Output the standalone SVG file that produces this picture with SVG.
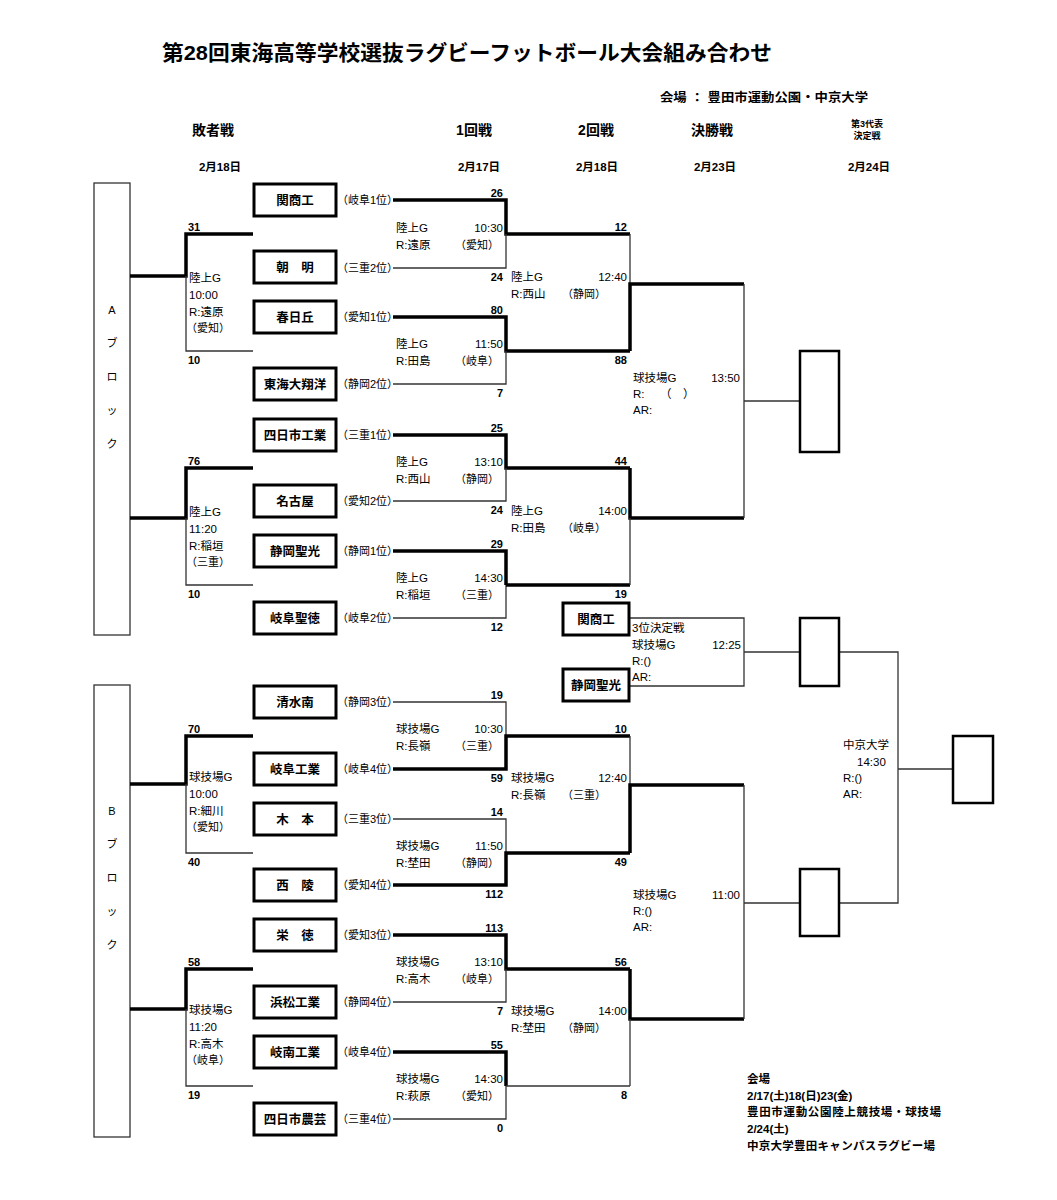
<svg xmlns="http://www.w3.org/2000/svg" width="1057" height="1200" viewBox="0 0 1057 1200">
<style>
text{font-family:"Liberation Sans","Noto Sans CJK JP",sans-serif;fill:#000}
.title{font-size:21px;font-weight:bold}
.sub{font-size:12px;font-weight:bold}
.hdr{font-size:14px;font-weight:bold;text-anchor:middle}
.hs{font-size:9px;font-weight:bold;text-anchor:middle}
.date{font-size:11.5px;font-weight:bold;text-anchor:middle}
.team{font-size:12.5px;font-weight:bold;text-anchor:middle}
.seed{font-size:11px}
.sc{font-size:11px;font-weight:bold}
.e{text-anchor:end}
.info{font-size:11.5px}
.pf{font-size:11px}
.blk{font-size:11px;text-anchor:middle}
.note{font-size:11.5px;font-weight:bold}
.thin{stroke:#333;stroke-width:1.3;fill:none}
.thick{stroke:#000;stroke-width:3.5;fill:none}
.box{fill:#fff;stroke:#000;stroke-width:3}
.rbox{fill:#fff;stroke:#000;stroke-width:2.5}
.bk{fill:#fff;stroke:#333;stroke-width:1.3}
</style>

<g id="header">
<text class="title" x="162" y="60" textLength="610" lengthAdjust="spacingAndGlyphs">第28回東海高等学校選抜ラグビーフットボール大会組み合わせ</text>
<text class="sub" x="660" y="102" textLength="208" lengthAdjust="spacingAndGlyphs">会場 ： 豊田市運動公園・中京大学</text>
<text class="hdr" x="213" y="135">敗者戦</text>
<text class="hdr" x="474" y="135">1回戦</text>
<text class="hdr" x="596" y="135">2回戦</text>
<text class="hdr" x="712" y="135">決勝戦</text>
<text class="hs" x="867" y="127">第3代表</text>
<text class="hs" x="867" y="139">決定戦</text>
<text class="date" x="220" y="171">2月18日</text>
<text class="date" x="479" y="171">2月17日</text>
<text class="date" x="597" y="171">2月18日</text>
<text class="date" x="715" y="171">2月23日</text>
<text class="date" x="869" y="171">2月24日</text>
</g>

<g id="block-A">
<rect class="bk" x="94" y="183" width="36" height="452"/>
<text class="blk" x="112" y="314">A</text>
<text class="blk" x="112" y="347">ブ</text>
<text class="blk" x="112" y="381">ロ</text>
<text class="blk" x="112" y="414">ッ</text>
<text class="blk" x="112" y="448">ク</text>
</g>
<g id="block-B">
<rect class="bk" x="94" y="685" width="36" height="452"/>
<text class="blk" x="112" y="815">B</text>
<text class="blk" x="112" y="848">ブ</text>
<text class="blk" x="112" y="882">ロ</text>
<text class="blk" x="112" y="915">ッ</text>
<text class="blk" x="112" y="949">ク</text>
</g>

<g id="connectors">
<path class="thick" d="M393,200 H506 V234 H630"/><path class="thin" d="M393,268 H506 V234"/>
<path class="thick" d="M393,317 H506 V351 H630"/><path class="thin" d="M393,384 H506 V351"/>
<path class="thick" d="M393,435 H506 V468 H630"/><path class="thin" d="M393,501 H506 V468"/>
<path class="thick" d="M393,551 H506 V585"/><path class="thin" d="M393,618 H506 V585"/><path class="thick" d="M506,585 H630"/>
<path class="thin" d="M393,702 H506 V736"/><path class="thick" d="M393,769 H506 V736 H630"/>
<path class="thin" d="M393,819 H506 V853"/><path class="thick" d="M393,885 H506 V853 H630"/>
<path class="thick" d="M393,935 H506 V969 H630"/><path class="thin" d="M393,1002 H506 V969"/>
<path class="thick" d="M393,1052 H506 V1086"/><path class="thin" d="M393,1119 H506 V1086"/><path class="thin" d="M506,1086 H630"/>
<path class="thin" d="M630,234 V284"/><path class="thick" d="M630,351 V284 H744"/>
<path class="thick" d="M630,468 V518 H744"/><path class="thin" d="M630,585 V518"/>
<path class="thin" d="M630,736 V785"/><path class="thick" d="M630,853 V785 H744"/>
<path class="thick" d="M630,969 V1019 H744"/><path class="thin" d="M630,1086 V1019"/>
<path class="thin" d="M744,284 V518 M744,401 H800"/>
<path class="thin" d="M744,785 V1019 M744,903 H800"/>
<path class="thin" d="M630,618 H744 V686 H630 M744,652 H800"/>
<path class="thin" d="M839,652 H898 V903 H839 M898,769 H953"/>
<path class="thick" d="M253,234 H186 V276 H130"/><path class="thin" d="M253,351 H186 V276"/>
<path class="thick" d="M253,468 H186 V518 H130"/><path class="thin" d="M253,585 H186 V518"/>
<path class="thick" d="M253,736 H186 V784 H130"/><path class="thin" d="M253,853 H186 V784"/>
<path class="thick" d="M253,969 H186 V1009 H130"/><path class="thin" d="M253,1086 H186 V1009"/>
</g>

<g id="teams">
<g id="t01"><rect class="box" x="254" y="184" width="82" height="32"/><text class="team" x="295" y="205">関商工</text><text class="seed" x="337" y="204">（岐阜1位）</text></g>
<g id="t02"><rect class="box" x="254" y="251" width="82" height="32"/><text class="team" x="295" y="272">朝　明</text><text class="seed" x="337" y="272">（三重2位）</text></g>
<g id="t03"><rect class="box" x="254" y="301" width="82" height="32"/><text class="team" x="295" y="322">春日丘</text><text class="seed" x="337" y="321">（愛知1位）</text></g>
<g id="t04"><rect class="box" x="254" y="368" width="82" height="32"/><text class="team" x="295" y="389">東海大翔洋</text><text class="seed" x="337" y="388">（静岡2位）</text></g>
<g id="t05"><rect class="box" x="254" y="419" width="82" height="32"/><text class="team" x="295" y="440">四日市工業</text><text class="seed" x="337" y="439">（三重1位）</text></g>
<g id="t06"><rect class="box" x="254" y="485" width="82" height="32"/><text class="team" x="295" y="506">名古屋</text><text class="seed" x="337" y="505">（愛知2位）</text></g>
<g id="t07"><rect class="box" x="254" y="535" width="82" height="32"/><text class="team" x="295" y="556">静岡聖光</text><text class="seed" x="337" y="555">（静岡1位）</text></g>
<g id="t08"><rect class="box" x="254" y="602" width="82" height="32"/><text class="team" x="295" y="623">岐阜聖徳</text><text class="seed" x="337" y="622">（岐阜2位）</text></g>
<g id="t09"><rect class="box" x="254" y="686" width="82" height="32"/><text class="team" x="295" y="707">清水南</text><text class="seed" x="337" y="706">（静岡3位）</text></g>
<g id="t10"><rect class="box" x="254" y="753" width="82" height="32"/><text class="team" x="295" y="774">岐阜工業</text><text class="seed" x="337" y="773">（岐阜4位）</text></g>
<g id="t11"><rect class="box" x="254" y="803" width="82" height="32"/><text class="team" x="295" y="824">木　本</text><text class="seed" x="337" y="823">（三重3位）</text></g>
<g id="t12"><rect class="box" x="254" y="869" width="82" height="32"/><text class="team" x="295" y="890">西　陵</text><text class="seed" x="337" y="889">（愛知4位）</text></g>
<g id="t13"><rect class="box" x="254" y="919" width="82" height="32"/><text class="team" x="295" y="940">栄　徳</text><text class="seed" x="337" y="939">（愛知3位）</text></g>
<g id="t14"><rect class="box" x="254" y="986" width="82" height="32"/><text class="team" x="295" y="1007">浜松工業</text><text class="seed" x="337" y="1006">（静岡4位）</text></g>
<g id="t15"><rect class="box" x="254" y="1036" width="82" height="32"/><text class="team" x="295" y="1057">岐南工業</text><text class="seed" x="337" y="1056">（岐阜4位）</text></g>
<g id="t16"><rect class="box" x="254" y="1103" width="82" height="32"/><text class="team" x="295" y="1124">四日市農芸</text><text class="seed" x="337" y="1123">（三重4位）</text></g>
<g id="third-1"><rect class="box" x="563" y="603" width="66" height="32"/><text class="team" x="596" y="624">関商工</text></g>
<g id="third-2"><rect class="box" x="563" y="669" width="66" height="32"/><text class="team" x="596" y="690">静岡聖光</text></g>
<g id="final-A"><rect class="rbox" x="800" y="351" width="39" height="101"/></g>
<g id="third-place"><rect class="rbox" x="800" y="618" width="39" height="68"/></g>
<g id="final-B"><rect class="rbox" x="800" y="869" width="39" height="67"/></g>
<g id="rep3"><rect class="rbox" x="953" y="736" width="40" height="67"/></g>
</g>

<g id="scores">
<text class="sc e" x="503" y="197">26</text><text class="sc e" x="503" y="281">24</text>
<text class="sc e" x="503" y="314">80</text><text class="sc e" x="503" y="397">7</text>
<text class="sc e" x="503" y="432">25</text><text class="sc e" x="503" y="514">24</text>
<text class="sc e" x="503" y="548">29</text><text class="sc e" x="503" y="631">12</text>
<text class="sc e" x="503" y="699">19</text><text class="sc e" x="503" y="782">59</text>
<text class="sc e" x="503" y="816">14</text><text class="sc e" x="503" y="898">112</text>
<text class="sc e" x="503" y="932">113</text><text class="sc e" x="503" y="1015">7</text>
<text class="sc e" x="503" y="1049">55</text><text class="sc e" x="503" y="1132">0</text>
<text class="sc e" x="627" y="231">12</text><text class="sc e" x="627" y="364">88</text>
<text class="sc e" x="627" y="465">44</text><text class="sc e" x="627" y="598">19</text>
<text class="sc e" x="627" y="733">10</text><text class="sc e" x="627" y="866">49</text>
<text class="sc e" x="627" y="966">56</text><text class="sc e" x="627" y="1099">8</text>
<text class="sc" x="188" y="231">31</text><text class="sc" x="188" y="364">10</text>
<text class="sc" x="188" y="465">76</text><text class="sc" x="188" y="598">10</text>
<text class="sc" x="188" y="733">70</text><text class="sc" x="188" y="866">40</text>
<text class="sc" x="188" y="966">58</text><text class="sc" x="188" y="1099">19</text>
</g>

<g id="match-info">
<text class="info" x="396" y="232">陸上G</text><text class="info e" x="503" y="232">10:30</text><text class="info" x="396" y="249">R:遠原</text><text class="pf" x="455" y="249">（愛知）</text>
<text class="info" x="396" y="348">陸上G</text><text class="info e" x="503" y="348">11:50</text><text class="info" x="396" y="365">R:田島</text><text class="pf" x="455" y="365">（岐阜）</text>
<text class="info" x="396" y="466">陸上G</text><text class="info e" x="503" y="466">13:10</text><text class="info" x="396" y="483">R:西山</text><text class="pf" x="455" y="483">（静岡）</text>
<text class="info" x="396" y="582">陸上G</text><text class="info e" x="503" y="582">14:30</text><text class="info" x="396" y="599">R:稲垣</text><text class="pf" x="455" y="599">（三重）</text>
<text class="info" x="396" y="733">球技場G</text><text class="info e" x="503" y="733">10:30</text><text class="info" x="396" y="750">R:長嶺</text><text class="pf" x="455" y="750">（三重）</text>
<text class="info" x="396" y="850">球技場G</text><text class="info e" x="503" y="850">11:50</text><text class="info" x="396" y="867">R:埜田</text><text class="pf" x="455" y="867">（静岡）</text>
<text class="info" x="396" y="966">球技場G</text><text class="info e" x="503" y="966">13:10</text><text class="info" x="396" y="983">R:高木</text><text class="pf" x="455" y="983">（岐阜）</text>
<text class="info" x="396" y="1083">球技場G</text><text class="info e" x="503" y="1083">14:30</text><text class="info" x="396" y="1100">R:萩原</text><text class="pf" x="455" y="1100">（愛知）</text>
<text class="info" x="511" y="281">陸上G</text><text class="info e" x="627" y="281">12:40</text><text class="info" x="511" y="298">R:西山</text><text class="pf" x="562" y="298">（静岡）</text>
<text class="info" x="511" y="515">陸上G</text><text class="info e" x="627" y="515">14:00</text><text class="info" x="511" y="532">R:田島</text><text class="pf" x="562" y="532">（岐阜）</text>
<text class="info" x="511" y="782">球技場G</text><text class="info e" x="627" y="782">12:40</text><text class="info" x="511" y="799">R:長嶺</text><text class="pf" x="562" y="799">（三重）</text>
<text class="info" x="511" y="1015">球技場G</text><text class="info e" x="627" y="1015">14:00</text><text class="info" x="511" y="1032">R:埜田</text><text class="pf" x="562" y="1032">（静岡）</text>
<text class="info" x="189" y="282">陸上G</text><text class="info" x="189" y="299">10:00</text><text class="info" x="189" y="316">R:遠原</text><text class="pf" x="186" y="332">（愛知）</text>
<text class="info" x="189" y="516">陸上G</text><text class="info" x="189" y="533">11:20</text><text class="info" x="189" y="550">R:稲垣</text><text class="pf" x="186" y="566">（三重）</text>
<text class="info" x="189" y="781">球技場G</text><text class="info" x="189" y="798">10:00</text><text class="info" x="189" y="815">R:細川</text><text class="pf" x="186" y="831">（愛知）</text>
<text class="info" x="189" y="1014">球技場G</text><text class="info" x="189" y="1031">11:20</text><text class="info" x="189" y="1048">R:高木</text><text class="pf" x="186" y="1064">（岐阜）</text>
<text class="info" x="633" y="382">球技場G</text><text class="info e" x="740" y="382">13:50</text><text class="info" x="633" y="398">R:</text><text class="info" x="660" y="398">（　）</text><text class="info" x="633" y="414">AR:</text>
<text class="info" x="633" y="899">球技場G</text><text class="info e" x="740" y="899">11:00</text><text class="info" x="633" y="915">R:()</text><text class="info" x="633" y="931">AR:</text>
<text class="info" x="632" y="632">3位決定戦</text><text class="info" x="632" y="649">球技場G</text><text class="info e" x="741" y="649">12:25</text><text class="info" x="632" y="665">R:()</text><text class="info" x="632" y="681">AR:</text>
<text class="info" x="843" y="749">中京大学</text><text class="info" x="857" y="766">14:30</text><text class="info" x="843" y="782">R:()</text><text class="info" x="843" y="798">AR:</text>
</g>

<g id="venue-note">
<text class="note" x="747" y="1083">会場</text>
<text class="note" x="747" y="1100">2/17(土)18(日)23(金)</text>
<text class="note" x="747" y="1116" textLength="194">豊田市運動公園陸上競技場・球技場</text>
<text class="note" x="747" y="1133">2/24(土)</text>
<text class="note" x="747" y="1150" textLength="188">中京大学豊田キャンパスラグビー場</text>
</g>
</svg>
